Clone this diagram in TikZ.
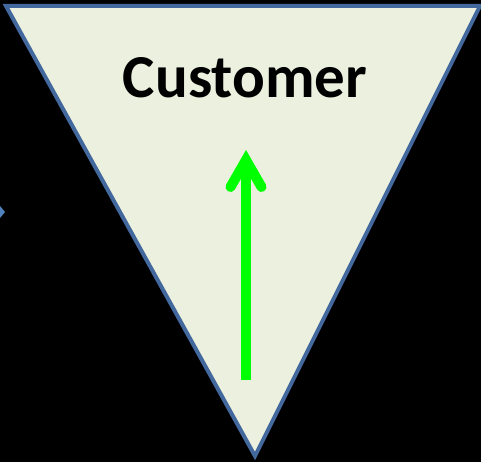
\documentclass[tikz,border=0pt]{standalone}
\usepackage{fontspec}
\setmainfont{Carlito}
\definecolor{trifill}{HTML}{EBF1DE}
\definecolor{triline}{RGB}{66,104,158}
\definecolor{arrgreen}{HTML}{00FF00}
\definecolor{leftblue}{RGB}{79,129,189}
\begin{document}
\begin{tikzpicture}[x=1pt,y=-1pt,
  funnel/.style={fill=trifill,draw=triline,line width=4pt,line join=miter},
  label/.style={font=\fontsize{61}{66}\selectfont\bfseries,text=black,inner sep=0pt,anchor=base},
  shaft/.style={draw=arrgreen,line width=10pt,line cap=butt},
  barbs/.style={draw=arrgreen,line width=10pt,line cap=round,line join=miter}]
\fill[black] (0,0) rectangle (481,462);
\useasboundingbox (0,0) rectangle (481,462);
\coordinate (tl) at (6,6);
\coordinate (tr) at (480,6);
\coordinate (ap) at (255,456);
\draw[funnel] (tl) -- (tr) -- (ap) -- cycle;
\node[label] (cust) at (245,98) {Customer};
\coordinate (sb) at (246,380);
\coordinate (tip) at (246,160);
\coordinate (bl) at (230.5,187);
\coordinate (br) at (261.5,187);
\draw[shaft] (sb) -- (tip);
\draw[barbs] (bl) -- (tip) -- (br);
\fill[leftblue] (0,206) -- (5,212) -- (0,218) -- cycle;
\end{tikzpicture}
\end{document}
